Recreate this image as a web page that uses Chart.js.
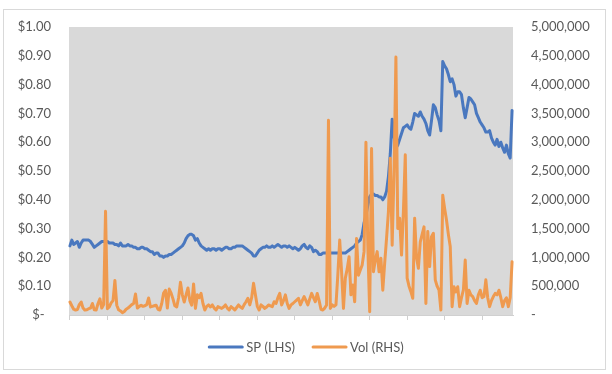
<!DOCTYPE html>
<html>
<head>
<meta charset="utf-8">
<script src="https://cdn.jsdelivr.net/npm/chart.js@4.4.1/dist/chart.umd.min.js"></script>
<style>
  html, body { margin: 0; padding: 0; background: #ffffff; }
  canvas { display: block; }
</style>
</head>
<body>
<canvas id="c" width="612" height="374"></canvas>
<script>
// Share price (LHS, $)
const sp = [
  0.24,0.26,0.245,0.25,0.255,0.235,0.25,0.26,0.26,0.26,
  0.26,0.255,0.245,0.235,0.24,0.245,0.25,0.255,0.255,0.255,
  0.255,0.25,0.25,0.25,0.245,0.245,0.24,0.25,0.24,0.24,
  0.24,0.245,0.24,0.24,0.235,0.235,0.23,0.23,0.235,0.235,
  0.23,0.23,0.225,0.22,0.22,0.21,0.215,0.215,0.205,0.205,
  0.2,0.205,0.205,0.21,0.21,0.215,0.22,0.225,0.23,0.235,
  0.24,0.25,0.265,0.275,0.28,0.28,0.275,0.26,0.265,0.25,
  0.24,0.235,0.23,0.225,0.23,0.225,0.23,0.23,0.225,0.23,
  0.23,0.225,0.23,0.235,0.235,0.23,0.23,0.235,0.235,0.24,
  0.24,0.24,0.24,0.235,0.23,0.225,0.22,0.215,0.205,0.205,
  0.215,0.225,0.23,0.235,0.235,0.24,0.235,0.235,0.24,0.235,
  0.24,0.245,0.24,0.235,0.24,0.24,0.235,0.24,0.235,0.23,
  0.235,0.23,0.225,0.23,0.24,0.245,0.235,0.23,0.24,0.235,
  0.22,0.225,0.22,0.21,0.21,0.215,0.215,0.215,0.215,0.215,
  0.215,0.215,0.215,0.215,0.215,0.215,0.215,0.215,0.22,0.225,
  0.23,0.235,0.24,0.25,0.255,0.26,0.28,0.32,0.345,0.38,
  0.41,0.42,0.42,0.415,0.415,0.41,0.41,0.40,0.41,0.43,
  0.48,0.56,0.68,0.62,0.58,0.59,0.61,0.63,0.65,0.655,
  0.66,0.65,0.645,0.67,0.70,0.695,0.69,0.705,0.69,0.68,
  0.665,0.64,0.625,0.675,0.73,0.72,0.695,0.675,0.64,0.88,
  0.865,0.855,0.835,0.81,0.82,0.80,0.76,0.775,0.775,0.765,
  0.72,0.685,0.72,0.755,0.75,0.74,0.73,0.70,0.685,0.67,
  0.66,0.65,0.635,0.635,0.64,0.615,0.60,0.59,0.61,0.585,
  0.60,0.58,0.565,0.59,0.56,0.545,0.71
];

// Volume (RHS, shares)
const vol = [
  225000,160000,100000,85000,95000,180000,225000,120000,85000,90000,
  110000,120000,200000,90000,85000,200000,280000,120000,180000,1800000,
  110000,140000,210000,250000,600000,170000,90000,70000,40000,60000,
  100000,120000,150000,180000,200000,365000,120000,150000,170000,150000,
  160000,180000,295000,140000,150000,160000,170000,100000,87000,200000,
  380000,430000,120000,450000,380000,280000,160000,140000,300000,570000,
  350000,225000,350000,470000,250000,170000,540000,115000,350000,300000,
  375000,200000,87000,150000,175000,140000,175000,120000,87000,145000,
  130000,115000,140000,175000,120000,87000,145000,120000,87000,130000,
  175000,140000,115000,180000,230000,290000,175000,300000,550000,350000,
  150000,87000,175000,150000,115000,140000,175000,160000,145000,230000,
  200000,300000,375000,175000,250000,350000,200000,115000,175000,200000,
  230000,260000,290000,175000,250000,320000,250000,175000,280000,375000,
  300000,230000,375000,250000,100000,87000,120000,175000,3380000,115000,
  175000,150000,175000,700000,1300000,750000,115000,640000,800000,1010000,
  350000,520000,230000,1330000,690000,780000,870000,1100000,3000000,1200000,
  57000,2890000,750000,950000,1100000,750000,985000,430000,900000,1330000,
  1790000,2720000,1210000,2490000,4480000,1500000,1680000,1040000,1800000,2780000,
  640000,500000,405000,290000,1680000,1000000,810000,1270000,1400000,1530000,
  200000,1450000,840000,1360000,1420000,610000,500000,430000,87000,2080000,
  1850000,1650000,1400000,1190000,145000,490000,400000,490000,145000,300000,
  430000,955000,200000,430000,350000,320000,250000,200000,350000,430000,
  300000,320000,610000,300000,145000,250000,320000,375000,350000,430000,
  300000,145000,250000,300000,145000,300000,925000
];

// Unlabelled periods (category axis)
const categories = sp.map((_, i) => i + 1);

const seriesNames = ['SP (LHS)', 'Vol (RHS)'];
const leftTickLabels = ['$-\u2002','$0.10','$0.20','$0.30','$0.40','$0.50','$0.60','$0.70','$0.80','$0.90','$1.00'];
const rightTickLabels = ['-','500,000','1,000,000','1,500,000','2,000,000','2,500,000','3,000,000','3,500,000','4,000,000','4,500,000','5,000,000'];

const BLUE = '#4a78bf';
const ORANGE = '#ef9a4f';
const TEXT = '#595959';
const FONT = 'Lato, "Noto Sans", sans-serif';

const framePlugin = {
  id: 'frame',
  beforeDraw(chart) {
    const ctx = chart.ctx;
    const a = chart.chartArea;
    ctx.save();
    ctx.fillStyle = '#ffffff';
    ctx.fillRect(0, 0, chart.width, chart.height);
    ctx.strokeStyle = '#d9d9d9';
    ctx.lineWidth = 1;
    ctx.strokeRect(3.5, 9.5, 602, 360);
    ctx.fillStyle = '#d9d9d9';
    ctx.fillRect(a.left, a.top, a.right - a.left, a.bottom - a.top);
    ctx.restore();
  },
  afterDraw(chart) {
    const ctx = chart.ctx;
    ctx.save();
    ctx.font = '13px ' + FONT;
    ctx.textBaseline = 'middle';
    ctx.textAlign = 'left';
    const lineLen = 35, gapText = 3, gapItem = 17;
    const colors = [BLUE, ORANGE];
    const w0 = ctx.measureText(seriesNames[0]).width;
    const w1 = ctx.measureText(seriesNames[1]).width;
    const total = lineLen + gapText + w0 + gapItem + lineLen + gapText + w1;
    let x = 306 - total / 2;
    const y = 347;
    [w0, w1].forEach((w, k) => {
      ctx.strokeStyle = colors[k];
      ctx.lineWidth = 3;
      ctx.lineCap = 'round';
      ctx.beginPath();
      ctx.moveTo(x + 1, y);
      ctx.lineTo(x + lineLen - 1, y);
      ctx.stroke();
      x += lineLen + gapText;
      ctx.fillStyle = TEXT;
      ctx.fillText(seriesNames[k], x, y + 0.5);
      x += w + gapItem;
    });
    ctx.restore();
  }
};

new Chart(document.getElementById('c'), {
  type: 'line',
  data: {
    labels: categories,
    datasets: [
      {
        label: seriesNames[0], data: sp, yAxisID: 'y', order: 2,
        borderColor: BLUE, backgroundColor: BLUE, borderWidth: 3,
        pointRadius: 0, tension: 0, borderJoinStyle: 'round', borderCapStyle: 'round'
      },
      {
        label: seriesNames[1], data: vol, yAxisID: 'y2', order: 1,
        borderColor: ORANGE, backgroundColor: ORANGE, borderWidth: 3,
        pointRadius: 0, tension: 0, borderJoinStyle: 'round', borderCapStyle: 'round'
      }
    ]
  },
  options: {
    responsive: false,
    animation: false,
    devicePixelRatio: 1,
    layout: { padding: { top: 27, left: 0, right: 0, bottom: 0 } },
    plugins: { legend: { display: false }, tooltip: { enabled: false } },
    scales: {
      x: {
        type: 'category',
        offset: true,
        afterBuildTicks: s => { s.ticks = s.ticks.filter(t => t.value % 20 === 0); },
        afterFit: s => { s.height = 59; },
        grid: { display: true, drawOnChartArea: false, drawTicks: true, tickLength: 5, color: '#d0d0d0', offset: false },
        border: { display: true, color: '#d0d0d0' },
        ticks: { display: false, autoSkip: false }
      },
      y: {
        position: 'left',
        min: 0, max: 1,
        afterFit: s => { s.width = 69; },
        grid: { display: false, drawTicks: false },
        border: { display: false },
        ticks: {
          stepSize: 0.1, padding: 18, color: TEXT,
          font: { family: FONT, size: 13 },
          callback: (v, i) => leftTickLabels[i]
        }
      },
      y2: {
        position: 'right',
        min: 0, max: 5000000,
        afterFit: s => { s.width = 99; },
        grid: { display: false, drawTicks: false },
        border: { display: false },
        ticks: {
          stepSize: 500000, padding: 18, color: TEXT,
          font: { family: FONT, size: 13 },
          callback: (v, i) => rightTickLabels[i]
        }
      }
    }
  },
  plugins: [framePlugin]
});
</script>
</body>
</html>
